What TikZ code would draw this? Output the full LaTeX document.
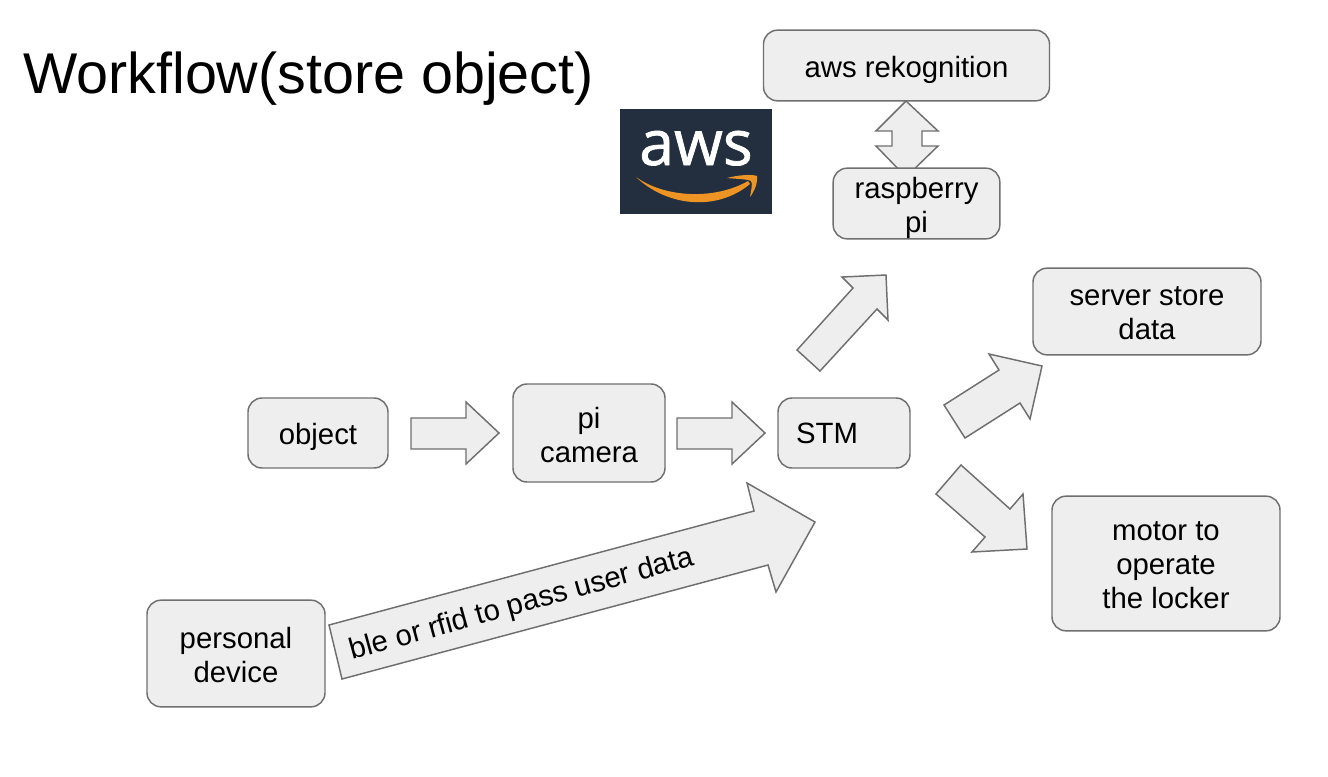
\documentclass[tikz,border=0pt]{standalone}
\usepackage{fontspec}
\setmainfont{Liberation Sans}
\newfontfamily\logofont[FakeBold=1.2]{Open Sans}
\definecolor{shapefill}{HTML}{EEEEEE}
\definecolor{shapeline}{HTML}{6F6F6F}
\definecolor{awsnavy}{HTML}{232F3E}
\definecolor{awsorange}{HTML}{EE9425}
\tikzset{
  box/.style={draw=shapeline,fill=shapefill,line width=1.1pt,rounded corners=10.5pt,inner sep=0pt},
  boxtext/.style={inner sep=0pt,align=center,font=\fontsize{22pt}{25.5pt}\selectfont,text=black},
  blockarrow/.style={draw=shapeline,fill=shapefill,line width=1.1pt,line join=miter},
}
\begin{document}
\begin{tikzpicture}[x=0.75pt,y=-0.75pt]
\useasboundingbox (0,0) rectangle (1328,776);
\fill[white] (0,0) rectangle (1328,776);
% title
\node[anchor=base west,inner sep=0pt,font=\fontsize{43.1pt}{50pt}\selectfont] (title) at (23,93) {Workflow(store object)};
% logo
\fill[awsnavy] (620,109) rectangle (772,214);
\node[anchor=base,inner sep=0pt,text=white,font=\logofont\fontsize{47pt}{50pt}\selectfont] (awslogo) at (696,165) {aws};
\fill[awsorange] (636,177) .. controls (665,205) and (715,213) .. (750,184) -- (748,181) .. controls (715,200) and (665,198) .. (636,177) -- cycle;
\fill[awsorange] (727,178) .. controls (738,175) and (752,174) .. (757,176) .. controls (758,183) and (754,192) .. (750,197) .. controls (751,190) and (753,184) .. (751,181) .. controls (747,179) and (737,179) .. (727,178) -- cycle;
% double arrow
\draw[blockarrow] (906,101) -- (938,131) -- (922,131) -- (922,146) -- (938,146) -- (906,177) -- (876,146) -- (892,146) -- (892,131) -- (876,131) -- cycle;
% boxes
\node[box,minimum width=214.5pt,minimum height=53pt] (rek) at (906.5,65.5) {};
\node[boxtext,yshift=-3pt] (rektext) at (rek) {aws rekognition};
\node[box,minimum width=125pt,minimum height=53pt] (rasp) at (916.5,203.5) {};
\node[boxtext,yshift=-3pt] (rasptext) at (rasp) {raspberry\\pi};
\node[box,minimum width=105pt,minimum height=52.5pt] (object) at (318,433) {};
\node[boxtext,yshift=-3pt] (objecttext) at (object) {object};
\node[box,minimum width=114pt,minimum height=73.5pt] (cam) at (589,433) {};
\node[boxtext,yshift=-1.5pt] (camtext) at (cam) {pi\\camera};
\node[box,minimum width=99pt,minimum height=52.5pt] (stm) at (844,433) {};
\node[boxtext,xshift=-12.75pt] (stmtext) at (stm) {STM};
\node[box,minimum width=171pt,minimum height=65pt] (server) at (1147,311.5) {};
\node[boxtext,yshift=-1.5pt] (servertext) at (server) {server store\\data};
\node[box,minimum width=171pt,minimum height=101pt] (motor) at (1166,563.5) {};
\node[boxtext,yshift=-1.5pt] (motortext) at (motor) {motor to\\operate\\the locker};
\node[box,minimum width=133.5pt,minimum height=80pt] (personal) at (236,653.5) {};
\node[boxtext,yshift=-1.5pt] (personaltext) at (personal) {personal\\device};
% block arrows
\draw[blockarrow] (411,418) -- (466,418) -- (466,402) -- (499,433) -- (466,464) -- (466,449) -- (411,449) -- cycle;
\draw[blockarrow] (677,418) -- (732,418) -- (732,402) -- (765,433) -- (732,464) -- (732,449) -- (677,449) -- cycle;
\draw[blockarrow] (797,350) -- (853,288) -- (842,277) -- (886,275) -- (888,320) -- (877,309) -- (820,371) -- cycle;
\draw[blockarrow] (944,405) -- (999,370) -- (989,354) -- (1042,366) -- (1030,419) -- (1020,403) -- (965,438) -- cycle;
\draw[blockarrow] (961,465) -- (1010,509) -- (1023,494) -- (1027,549) -- (972,552) -- (985,537) -- (936,494) -- cycle;
\draw[blockarrow] (329,625) -- (754,511) -- (747,483) -- (815,522) -- (776,592) -- (768,565) -- (342,679) -- cycle;
\node[rotate=15.5,inner sep=0pt,font=\fontsize{22pt}{25pt}\selectfont] (blelabel) at (522,605) {ble or rfid to pass user data};
\end{tikzpicture}
\end{document}
